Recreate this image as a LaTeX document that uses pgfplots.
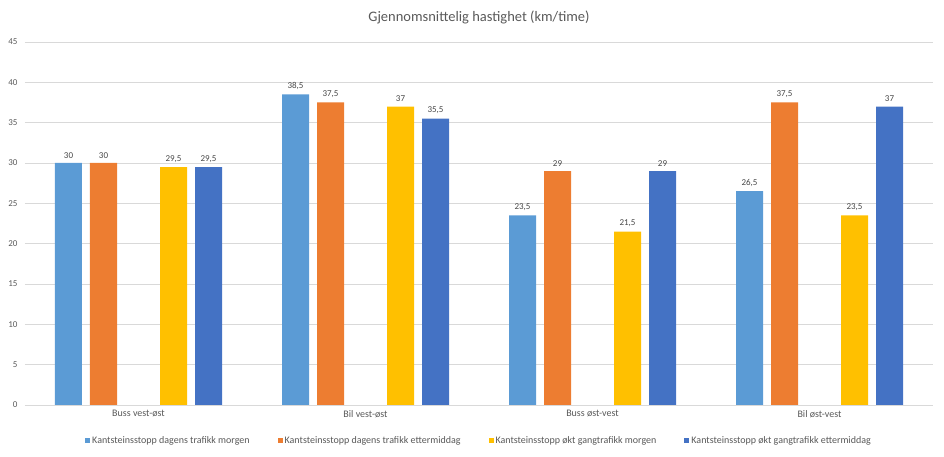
\documentclass[border=0pt]{standalone}
\usepackage{fontspec}
\setmainfont{Carlito}
\usepackage{pgfplots}
\pgfplotsset{compat=1.18}

\definecolor{lblue}{HTML}{5B9BD5}
\definecolor{orng}{HTML}{ED7D31}
\definecolor{yell}{HTML}{FFC000}
\definecolor{dblue}{HTML}{4472C4}
\definecolor{txt}{HTML}{595959}
\definecolor{gridc}{HTML}{D9D9D9}

\begin{document}
\begin{tikzpicture}
% page frame: 944 x 457
\path[use as bounding box] (-25pt,-52pt) rectangle (919pt,405pt);
\begin{axis}[
  at={(0,0)}, anchor=south west,
  scale only axis,
  width=908pt, height=363pt,
  ybar, bar width=27pt,
  xmin=-0.5, xmax=3.5,
  ymin=0, ymax=45,
  ytick={0,5,...,45},
  xtick={0,1,2,3},
  xticklabels={Buss vest-øst, Bil vest-øst, Buss øst-vest, Bil øst-vest},
  axis line style={draw=none},
  major tick length=0pt,
  ymajorgrids,
  grid style={gridc, line width=0.8pt},
  /pgf/number format/assume math mode=true,
  /pgf/number format/use comma,
  tick label style={font=\fontsize{10}{11}\selectfont, text=txt},
  yticklabel style={xshift=-4pt, font=\fontsize{9}{10}\selectfont},
  xticklabel style={yshift=-2pt},
  title={Gjennomsnittelig hastighet (km/time)},
  title style={font=\fontsize{14.5}{16}\selectfont, text=txt, yshift=8pt},
  nodes near coords,
  every node near coord/.append style={font=\fontsize{9}{10}\selectfont, text=txt!80!black, yshift=1pt},
  legend style={at={(0.5,0)}, anchor=center, yshift=-36pt, draw=none,
    font=\fontsize{10}{11}\selectfont, text=txt},
  legend columns=4,
  legend cell align=left,
  /tikz/every even column/.append style={column sep=26pt},
  legend image code/.code={\fill[#1] (0pt,-2.5pt) rectangle (5pt,2.5pt);},
]
\addplot[fill=lblue, draw=none, bar shift=-70pt] coordinates {(0,30) (1,38.5) (2,23.5) (3,26.5)};
\addplot[fill=orng, draw=none, bar shift=-35pt] coordinates {(0,30) (1,37.5) (2,29) (3,37.5)};
\addplot[fill=yell, draw=none, bar shift=35pt] coordinates {(0,29.5) (1,37) (2,21.5) (3,23.5)};
\addplot[fill=dblue, draw=none, bar shift=70pt] coordinates {(0,29.5) (1,35.5) (2,29) (3,37)};
\legend{Kantsteinsstopp dagens trafikk morgen, Kantsteinsstopp dagens trafikk ettermiddag, Kantsteinsstopp økt gangtrafikk morgen, Kantsteinsstopp økt gangtrafikk ettermiddag}
\end{axis}
\end{tikzpicture}
\end{document}
